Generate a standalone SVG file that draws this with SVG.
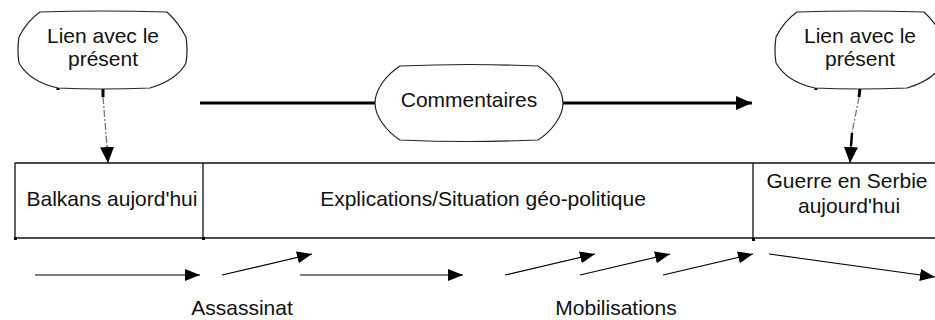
<svg xmlns="http://www.w3.org/2000/svg" width="935" height="320" viewBox="0 0 935 320">
<defs>
<style>
text{font-family:"Liberation Sans",Arial,sans-serif;font-size:21px;fill:#111;text-anchor:middle}
.cloud{fill:#fff;stroke:#222;stroke-width:1.2}
.box{fill:none;stroke:#111;stroke-width:1.3}
.thin{stroke:#000;stroke-width:1.2;fill:none}
.dash{stroke:#777;stroke-width:1.3;stroke-dasharray:7,2,2,2;fill:none}
</style>
<marker id="ah" viewBox="0 0 15 12" refX="15" refY="6" markerWidth="15" markerHeight="12" markerUnits="userSpaceOnUse" orient="auto">
<path d="M0,0 L15,6 L0,12 Z" fill="#000"/>
</marker>
<marker id="ahBig" viewBox="0 0 16 14" refX="16" refY="7" markerWidth="16" markerHeight="14" markerUnits="userSpaceOnUse" orient="auto">
<path d="M0,0 L16,7 L0,14 Z" fill="#000"/>
</marker>
</defs>
<rect width="935" height="320" fill="#fff"/>

<g id="connectors">
<line x1="200" y1="103" x2="376" y2="103" stroke="#000" stroke-width="3"/>
<line x1="562" y1="103" x2="752" y2="103" stroke="#000" stroke-width="3" marker-end="url(#ahBig)"/>
<line x1="103" y1="88" x2="103" y2="97" stroke="#000" stroke-width="3"/>
<line x1="58" y1="87" x2="58" y2="90" stroke="#000" stroke-width="3"/>
<path class="dash" d="M103,97 L107,146"/>
<line x1="107" y1="146" x2="108" y2="163" class="thin" marker-end="url(#ahBig)"/>
<line x1="860" y1="88" x2="859" y2="97" stroke="#000" stroke-width="3"/>
<line x1="816" y1="87" x2="816" y2="90" stroke="#000" stroke-width="3"/>
<path class="dash" d="M859,97 L852,133"/>
<line x1="852" y1="133" x2="851" y2="146" stroke="#000" stroke-width="2.5"/>
<line x1="851" y1="146" x2="850" y2="163" class="thin" marker-end="url(#ahBig)"/>
<line class="thin" x1="35" y1="275" x2="200" y2="275" marker-end="url(#ah)"/>
<line class="thin" x1="222" y1="275" x2="312" y2="254" marker-end="url(#ah)"/>
<line class="thin" x1="300" y1="275" x2="463" y2="275" marker-end="url(#ah)"/>
<line class="thin" x1="505" y1="275" x2="595" y2="254" marker-end="url(#ah)"/>
<line class="thin" x1="580" y1="275" x2="670" y2="254" marker-end="url(#ah)"/>
<line class="thin" x1="663" y1="275" x2="753" y2="254" marker-end="url(#ah)"/>
<line class="thin" x1="769" y1="254" x2="935" y2="277" marker-end="url(#ah)"/>
</g>

<g id="lien-gauche">
<path class="cloud" d="M40,12 Q100,10 167,12 Q178,22 186,37 Q188,50 186,63 Q177,80 150,88 Q100,90 58,88 Q30,82 19,63 Q17,50 19,37 Q27,21 40,12 Z"/>
<text x="103" y="43">Lien avec le</text>
<text x="103" y="66">présent</text>
</g>

<g id="lien-droite">
<path class="cloud" d="M797,12 Q857,10 924,12 Q935,22 943,37 Q945,50 943,63 Q934,80 907,88 Q857,90 815,88 Q787,82 776,63 Q774,50 776,37 Q784,21 797,12 Z"/>
<text x="860" y="43">Lien avec le</text>
<text x="860" y="66">présent</text>
</g>

<g id="commentaires">
<path class="cloud" d="M400,66 Q469,63 538,66 C552,75 563,90 563,103 C563,116 552,131 538,140 Q469,143 400,140 C386,131 375,116 375,103 C375,90 386,75 400,66 Z"/>
<text x="469" y="107">Commentaires</text>
</g>

<g id="frise">
<path class="box" d="M935,163 L15,163 L15,238 L935,238 M203,163 L203,238 M753,163 L753,238"/>
<rect x="14" y="237" width="3" height="3" fill="#000"/>
<rect x="202" y="237" width="3" height="3" fill="#000"/>
<rect x="752" y="238" width="3" height="3" fill="#000"/>
</g>

<g id="balkans">
<text x="112" y="206">Balkans aujord'hui</text>
</g>
<g id="explications">
<text x="483" y="206">Explications/Situation géo-politique</text>
</g>
<g id="guerre">
<text x="847" y="188">Guerre en Serbie</text>
<text x="849" y="213">aujourd'hui</text>
</g>
<g id="assassinat">
<text x="242" y="315">Assassinat</text>
</g>
<g id="mobilisations">
<text x="616" y="315">Mobilisations</text>
</g>
</svg>
